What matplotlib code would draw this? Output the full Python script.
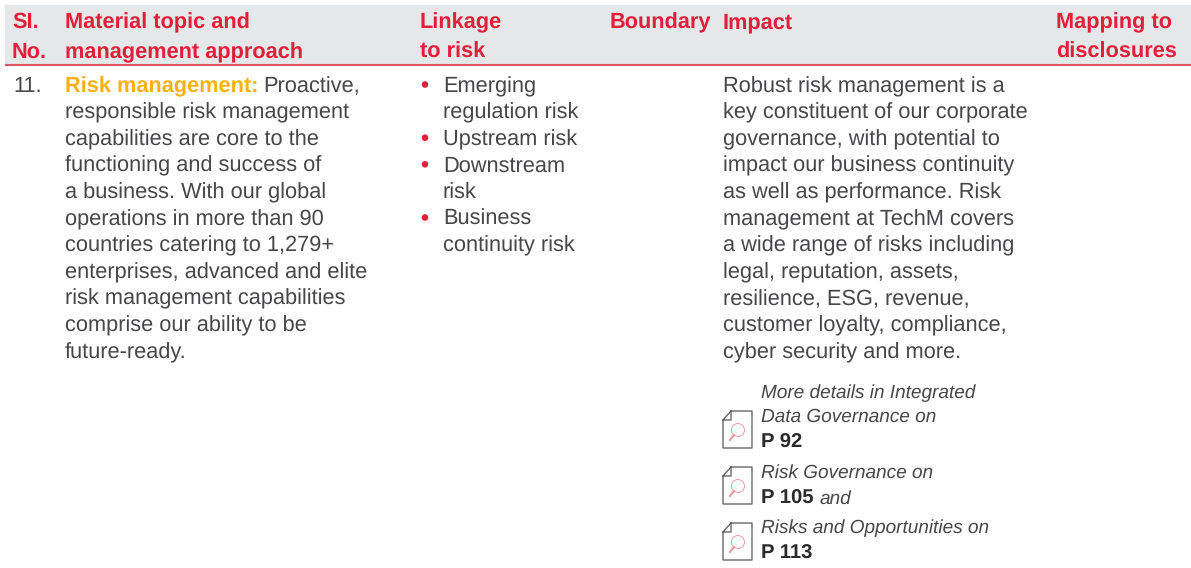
import matplotlib
matplotlib.use("Agg")
import matplotlib.pyplot as plt
from matplotlib.patches import Circle, Rectangle

plt.rcParams["font.family"] = ["Liberation Sans", "DejaVu Sans"]
plt.rcParams["text.hinting"] = "no_hinting"
plt.rcParams["text.hinting_factor"] = 8

RED = "#e0203a"
AMBER = "#fbb016"
DARK = "#47474a"

# table text
header_cols = [
    (12, ["SI.", "No."]),
    (65, ["Material topic and", "management approach"]),
    (420, ["Linkage", "to risk"]),
    (610, ["Boundary"]),
    (723, ["Impact"]),
    (1056, ["Mapping to", "disclosures"]),
]
sl_no = "11."
topic_title = "Risk management:"
topic_first = "Proactive,"
topic_lines = [
    "responsible risk management",
    "capabilities are core to the",
    "functioning and success of",
    "a business. With our global",
    "operations in more than 90",
    "countries catering to 1,279+",
    "enterprises, advanced and elite",
    "risk management capabilities",
    "comprise our ability to be",
    "future-ready.",
]
risk_items = [
    ["Emerging", "regulation risk"],
    ["Upstream risk"],
    ["Downstream", "risk"],
    ["Business", "continuity risk"],
]
impact_lines = [
    "Robust risk management is a",
    "key constituent of our corporate",
    "governance, with potential to",
    "impact our business continuity",
    "as well as performance. Risk",
    "management at TechM covers",
    "a wide range of risks including",
    "legal, reputation, assets,",
    "resilience, ESG, revenue,",
    "customer loyalty, compliance,",
    "cyber security and more.",
]
# (baseline y, italic lines) then page ref
ref_blocks = [
    ([(398, "More details in Integrated"), (422, "Data Governance on")], 448, "P 92", "", 448),
    ([(478, "Risk Governance on")], 504, "P 105", "and", 504),
    ([(533, "Risks and Opportunities on")], 559, "P 113", "", 560),
]

BODY_SIZE = 15.65
HEAD_SIZE = 15.65
LINE = 26.6
FIRST_BASE = 92

fig = plt.figure(figsize=(11.91, 5.68), dpi=100)
ax = fig.add_axes([0, 0, 1, 1])
ax.set_xlim(0, 1191)
ax.set_ylim(568, 0)
ax.axis("off")

# header band
ax.add_patch(Rectangle((5, 5), 1186, 59.5, fc="#e6e7e9", ec="none"))
ax.plot([5, 1191], [65, 65], color="#dc5563", lw=1.5, solid_capstyle="butt")

for x, lines in header_cols:
    for i, s in enumerate(lines):
        ax.text(x, 28 + i * 30, s, color=RED, fontsize=HEAD_SIZE, fontweight="bold", va="baseline")

ax.text(13, FIRST_BASE, sl_no, color=DARK, fontsize=BODY_SIZE, va="baseline")

# topic column
title = ax.text(65, FIRST_BASE, topic_title, color=AMBER, fontsize=BODY_SIZE, fontweight="bold", va="baseline")
fig.canvas.draw()
title_end = title.get_window_extent().x1
ax.text(title_end + 5, FIRST_BASE, topic_first, color=DARK, fontsize=BODY_SIZE, va="baseline")
for i, s in enumerate(topic_lines):
    ax.text(65, FIRST_BASE + (i + 1) * LINE, s, color=DARK, fontsize=BODY_SIZE, va="baseline")

# risk bullets
row = 0
for item in risk_items:
    ax.add_patch(Circle((425, FIRST_BASE - 7.5 + row * LINE), 3.3, fc=RED, ec="none"))
    for s in item:
        ax.text(443, FIRST_BASE + row * LINE, s, color=DARK, fontsize=BODY_SIZE, va="baseline")
        row += 1

for i, s in enumerate(impact_lines):
    ax.text(723, FIRST_BASE + i * LINE, s, color=DARK, fontsize=BODY_SIZE, va="baseline")


def draw_icon(bottom):
    # small document with magnifier
    x0, x1, top = 723, 752, bottom - 37
    ax.plot([x0 + 8, x1, x1, x0, x0, x0 + 8, x0 + 8, x0],
            [top, top, bottom, bottom, top + 9, top, top + 9, top + 9],
            color="#58585a", lw=0.9)
    ax.add_patch(Circle((738, bottom - 18), 6.5, fc="none", ec="#ee9aa5", lw=0.7))
    ax.plot([730, 734], [bottom - 8, bottom - 13], color="#ee9aa5", lw=1.5)


for lines, pbase, page, tail, icon_bottom in ref_blocks:
    for y, s in lines:
        ax.text(761, y, s, color=DARK, fontsize=13.7, style="italic", va="baseline")
    p = ax.text(761, pbase, page, color="#2b2b2d", fontsize=14.6, fontweight="bold", va="baseline")
    if tail:
        fig.canvas.draw()
        ax.text(p.get_window_extent().x1 + 6, pbase, tail, color=DARK, fontsize=13.7, style="italic", va="baseline")
    draw_icon(icon_bottom)

fig.savefig("out.png", dpi=100, facecolor="white")
